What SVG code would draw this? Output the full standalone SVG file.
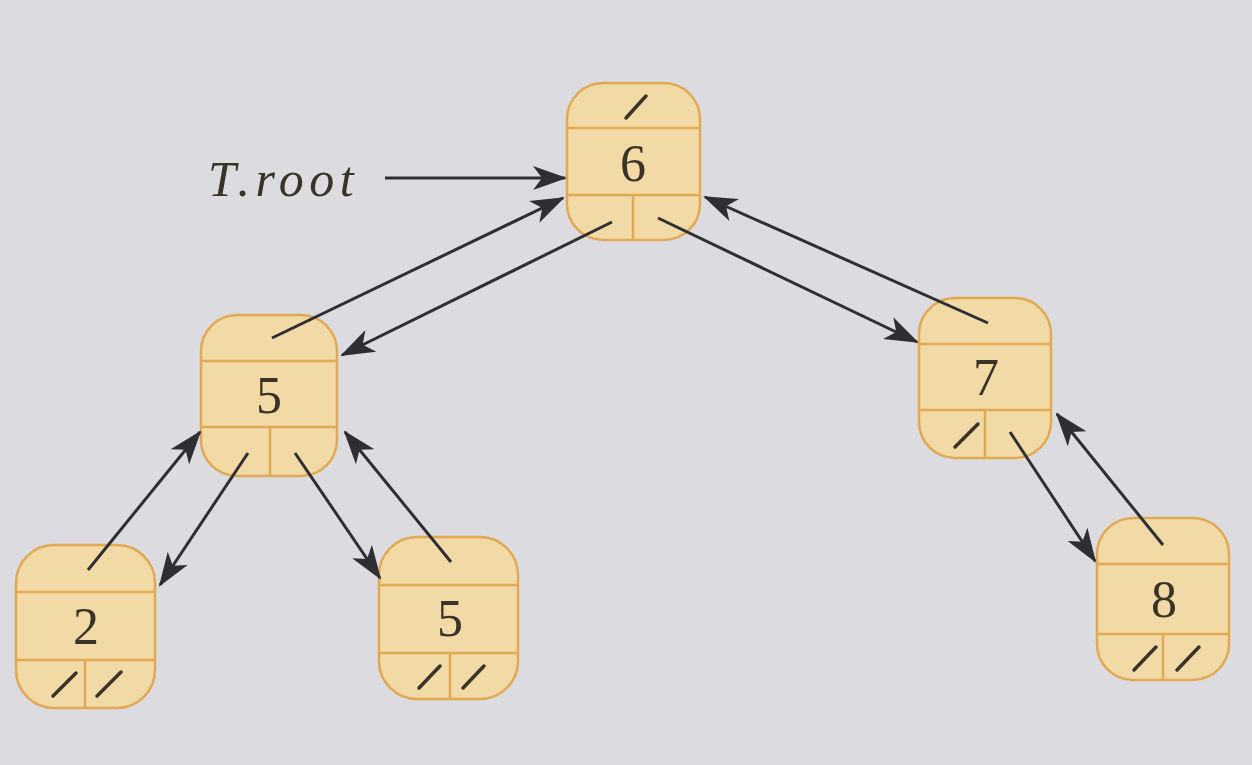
<svg xmlns="http://www.w3.org/2000/svg" width="1252" height="765" viewBox="0 0 1252 765">
<style>
.box{fill:#f1daa5;stroke:#e2a955;stroke-width:2.5}
.div{stroke:#e2a955;stroke-width:2.5;fill:none}
.nil{stroke:#3a3328;stroke-width:3.5;stroke-linecap:round}
.key{font-family:"Liberation Serif",serif;font-size:52px;fill:#3a3328;text-anchor:middle}
.lbl{font-family:"Liberation Serif",serif;font-size:50px;font-style:italic;fill:#3a3328;letter-spacing:5.5px}
</style>
<defs>
<marker id="big" markerWidth="34" markerHeight="24" refX="32" refY="12" orient="auto" markerUnits="userSpaceOnUse" viewBox="0 0 34 24">
<path d="M0,0 L34,12 L0,24 L9,12 Z" fill="#2f2f33"/>
</marker>
</defs>
<rect width="1252" height="765" fill="#dcdce0"/>
<text class="lbl" x="208" y="196">T.root</text>
<g id="n6">
<rect class="box" x="567" y="83" width="133" height="157" rx="36"/>
<path class="div" d="M568,128 H699 M568,195 H699 M633,195 V239"/>
<line class="nil" x1="626" y1="118" x2="646" y2="96"/>
<text class="key" x="633" y="181">6</text>
</g>
<g id="n5a">
<rect class="box" x="201" y="315" width="136" height="161" rx="36"/>
<path class="div" d="M202,361 H336 M202,427 H336 M270,427 V475"/>
<text class="key" x="269" y="413">5</text>
</g>
<g id="n2">
<rect class="box" x="16" y="545" width="139" height="163" rx="38"/>
<path class="div" d="M17,592 H154 M17,660 H154 M85,660 V707"/>
<line class="nil" x1="53" y1="696" x2="76" y2="673"/>
<line class="nil" x1="97" y1="696" x2="121" y2="672"/>
<text class="key" x="86" y="644">2</text>
</g>
<g id="n5b">
<rect class="box" x="379" y="537" width="139" height="162" rx="38"/>
<path class="div" d="M380,585 H517 M380,653 H517 M450,653 V698"/>
<line class="nil" x1="419" y1="688" x2="440" y2="666"/>
<line class="nil" x1="463" y1="688" x2="484" y2="666"/>
<text class="key" x="450" y="636">5</text>
</g>
<g id="n7">
<rect class="box" x="919" y="298" width="132" height="160" rx="36"/>
<path class="div" d="M920,344 H1050 M920,410 H1050 M985,410 V457"/>
<line class="nil" x1="955" y1="447" x2="978" y2="424"/>
<text class="key" x="986" y="395">7</text>
</g>
<g id="n8">
<rect class="box" x="1097" y="518" width="132" height="162" rx="36"/>
<path class="div" d="M1098,564 H1228 M1098,634 H1228 M1163,634 V679"/>
<line class="nil" x1="1134" y1="670" x2="1156" y2="647"/>
<line class="nil" x1="1177" y1="670" x2="1199" y2="647"/>
<text class="key" x="1164" y="617">8</text>
</g>
<g id="connectors" stroke="#2f2f33" stroke-width="3" fill="none" marker-end="url(#big)">
<line x1="385" y1="178" x2="565" y2="178"/>
<line x1="272" y1="338" x2="563" y2="198"/>
<line x1="612" y1="222" x2="342" y2="355"/>
<line x1="658" y1="218" x2="917" y2="342"/>
<line x1="988" y1="323" x2="705" y2="197"/>
<line x1="248" y1="453" x2="160" y2="585"/>
<line x1="88" y1="570" x2="200" y2="432"/>
<line x1="295" y1="453" x2="380" y2="578"/>
<line x1="451" y1="562" x2="345" y2="432"/>
<line x1="1010" y1="432" x2="1095" y2="561"/>
<line x1="1163" y1="545" x2="1057" y2="414"/>
</g>
</svg>
